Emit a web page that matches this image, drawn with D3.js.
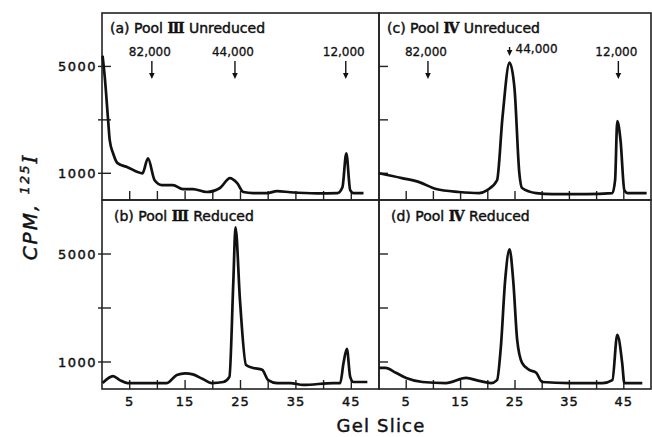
<!DOCTYPE html>
<html>
<head>
<meta charset="utf-8">
<script src="https://cdn.jsdelivr.net/npm/d3@7"></script>
<style>
  html, body { margin: 0; padding: 0; background: #fff; }
  svg { display: block; }
  text { stroke: #111; stroke-width: 0.45; }
</style>
</head>
<body>
<svg id="chart"></svg>
<script>
// gel slice profiles (CPM, 125I)
const poolIIIUnreducedSlice = [0.1, 0.5, 1.1, 1.4, 2, 2.8, 4.6, 7.3, 8.3, 9.5, 10.8, 12.8, 14.6, 16.4, 18.9, 21.3, 23.1, 24.4, 25.5, 27.3, 29.8, 31.6, 34, 38.8, 42.5, 43.4, 44.1, 44.8, 45.4, 47.2];
const poolIIIUnreducedCpm = [5400, 4600, 3000, 2230, 1750, 1380, 1230, 1000, 1560, 740, 560, 560, 410, 410, 300, 450, 820, 630, 300, 260, 260, 330, 290, 250, 260, 480, 1750, 370, 260, 260];

const poolIIIReducedSlice = [0.1, 2, 3.2, 4.6, 8.6, 11.7, 13.5, 15, 16.4, 18.2, 19.8, 21.9, 23, 23.7, 24.1, 24.9, 26, 27.3, 28.9, 30, 31.6, 34, 36.3, 41.8, 43, 43.6, 44.2, 44.8, 45.4, 47.9];
const poolIIIReducedCpm = [220, 480, 330, 220, 220, 220, 520, 580, 540, 370, 220, 260, 450, 3940, 5990, 3310, 890, 780, 710, 330, 220, 220, 150, 220, 220, 970, 1490, 450, 260, 260];

const poolIVUnreducedSlice = [0, 4.2, 7.4, 10.5, 14.7, 18.4, 19.9, 21.7, 22.7, 24, 24.9, 25.8, 26.3, 28.9, 31.9, 38.1, 42.9, 43.4, 43.8, 44.4, 45.1, 45.7, 49.2];
const poolIVUnreducedCpm = [1000, 820, 670, 410, 300, 260, 370, 740, 3090, 5140, 4200, 1000, 450, 260, 220, 220, 260, 740, 2950, 2230, 370, 260, 260];

const poolIVReducedSlice = [0, 1.2, 3.1, 5, 8, 12.3, 16, 18.4, 20.6, 21.7, 22.4, 23.2, 24, 24.7, 25.4, 26.3, 27.6, 28.9, 30, 35, 41.1, 42.9, 43.8, 44.7, 45.1, 48.4];
const poolIVReducedCpm = [780, 780, 600, 410, 260, 220, 410, 300, 220, 330, 1560, 4050, 5170, 3940, 1820, 970, 710, 600, 260, 220, 220, 330, 2010, 970, 220, 220];

const panelLetters = ['a', 'b', 'c', 'd'];
const panelPools = ['Ⅲ', 'Ⅲ', 'Ⅳ', 'Ⅳ'];
const panelStates = ['Unreduced', 'Reduced', 'Unreduced', 'Reduced'];

const markerLabels = ['82,000', '44,000', '12,000'];
const markerSlices = [9, 24, 44];

const yTickValues = [1000, 3000, 5000];
const yTickLabels = ['1000', '', '5000'];
const xTickValues = [5, 10, 15, 20, 25, 30, 35, 40, 45];
const xTickLabels = ['5', '', '15', '', '25', '', '35', '', '45'];

const width = 652;
const height = 437;
const font = '"DejaVu Sans", sans-serif';
const ink = '#111';

const svg = d3.select('#chart').attr('width', width).attr('height', height);

// panel layout: two columns, two rows sharing edges
const colX = [[102, 379], [379, 651]];
const rowY = [[13, 200], [200, 389]];

const panels = [
  { col: 0, row: 0, xs: poolIIIUnreducedSlice, ys: poolIIIUnreducedCpm, markers: true },
  { col: 0, row: 1, xs: poolIIIReducedSlice, ys: poolIIIReducedCpm, markers: false },
  { col: 1, row: 0, xs: poolIVUnreducedSlice, ys: poolIVUnreducedCpm, markers: true },
  { col: 1, row: 1, xs: poolIVReducedSlice, ys: poolIVReducedCpm, markers: false }
];

panels.forEach((p, i) => {
  const [x0, x1] = colX[p.col];
  const [y0, y1] = rowY[p.row];
  const x = d3.scaleLinear().domain([0, 50]).range([x0, x1]);
  const y = d3.scaleLinear().domain([0, 7000]).range([y1, y0]);
  const g = svg.append('g');

  g.append('rect')
    .attr('x', x0)
    .attr('y', y0)
    .attr('width', x1 - x0)
    .attr('height', y1 - y0)
    .attr('fill', 'none')
    .attr('stroke', '#222')
    .attr('stroke-width', 1.6);

  // y ticks, inward from the left edge
  yTickValues.forEach((v, k) => {
    g.append('line')
      .attr('x1', p.col === 0 ? x0 - 4 : x0)
      .attr('x2', x0 + 9)
      .attr('y1', y(v))
      .attr('y2', y(v))
      .attr('stroke', '#222')
      .attr('stroke-width', 1.4);
    if (p.col === 0 && yTickLabels[k]) {
      g.append('text')
        .attr('x', x0 - 5)
        .attr('y', y(v) + 4.5)
        .attr('text-anchor', 'end')
        .attr('font-family', font)
        .attr('font-size', 13)
        .attr('letter-spacing', 1.5)
        .attr('fill', ink)
        .text(yTickLabels[k]);
    }
  });

  // x ticks, inward from the bottom edge
  xTickValues.forEach((v, k) => {
    g.append('line')
      .attr('x1', x(v))
      .attr('x2', x(v))
      .attr('y1', y1)
      .attr('y2', y1 - 9)
      .attr('stroke', '#222')
      .attr('stroke-width', 1.4);
    if (p.row === 1 && xTickLabels[k]) {
      g.append('text')
        .attr('x', x(v))
        .attr('y', y1 + 17)
        .attr('text-anchor', 'middle')
        .attr('font-family', font)
        .attr('font-size', 13)
        .attr('letter-spacing', 1)
        .attr('fill', ink)
        .text(xTickLabels[k]);
    }
  });

  const line = d3.line()
    .x(d => x(d[0]))
    .y(d => y(d[1]))
    .curve(d3.curveMonotoneX);

  g.append('path')
    .datum(p.xs.map((s, k) => [s, p.ys[k]]))
    .attr('d', line)
    .attr('fill', 'none')
    .attr('stroke', ink)
    .attr('stroke-width', 2.7)
    .attr('stroke-linejoin', 'round');

  const title = g.append('text')
    .attr('x', x0 + (p.row === 0 ? 8 : 12))
    .attr('y', y0 + (p.row === 0 ? 20 : 21))
    .attr('font-family', font)
    .attr('font-size', 14)
    .attr('fill', ink);
  title.append('tspan').text(`(${panelLetters[i]}) Pool `);
  title.append('tspan')
    .attr('font-family', '"DejaVu Serif", serif')
    .attr('font-weight', 'bold')
    .text(panelPools[i]);
  title.append('tspan').text(` ${panelStates[i]}`);

  if (p.markers) {
    markerSlices.forEach((s, k) => {
      const ax = x(s);
      // in (c) the 44,000 arrow sits right on the peak, label to its right
      const squeezed = p.col === 1 && k === 1;
      const top = squeezed ? y0 + 34 : y0 + 48;
      const bottom = squeezed ? y0 + 43 : y0 + 66;
      g.append('line')
        .attr('x1', ax)
        .attr('x2', ax)
        .attr('y1', top)
        .attr('y2', bottom - 5)
        .attr('stroke', ink)
        .attr('stroke-width', 1.4);
      g.append('path')
        .attr('d', `M${ax - 2.8},${bottom - 6}L${ax + 2.8},${bottom - 6}L${ax},${bottom}Z`)
        .attr('fill', ink);
      g.append('text')
        .attr('x', squeezed ? ax + 6 : ax - 2)
        .attr('y', squeezed ? y0 + 40 : y0 + 43)
        .attr('text-anchor', squeezed ? 'start' : 'middle')
        .attr('font-family', font)
        .attr('font-size', 12)
        .attr('fill', ink)
        .style('stroke-width', 0.3)
        .text(markerLabels[k]);
    });
  }
});

svg.append('text')
  .attr('x', 381)
  .attr('y', 432)
  .attr('text-anchor', 'middle')
  .attr('font-family', font)
  .attr('font-size', 18)
  .attr('letter-spacing', 1.2)
  .attr('fill', ink)
  .text('Gel Slice');

const yLabel = svg.append('text')
  .attr('transform', 'translate(37, 207) rotate(-90)')
  .attr('text-anchor', 'middle')
  .attr('font-family', font)
  .attr('font-size', 20)
  .attr('font-style', 'italic')
  .attr('letter-spacing', 2)
  .attr('fill', ink);
yLabel.append('tspan').text('CPM, ');
yLabel.append('tspan').attr('font-size', 13).attr('dy', -8).text('125');
yLabel.append('tspan').attr('dy', 8).attr('font-family', '"DejaVu Serif", serif').text('I');
</script>
</body>
</html>
